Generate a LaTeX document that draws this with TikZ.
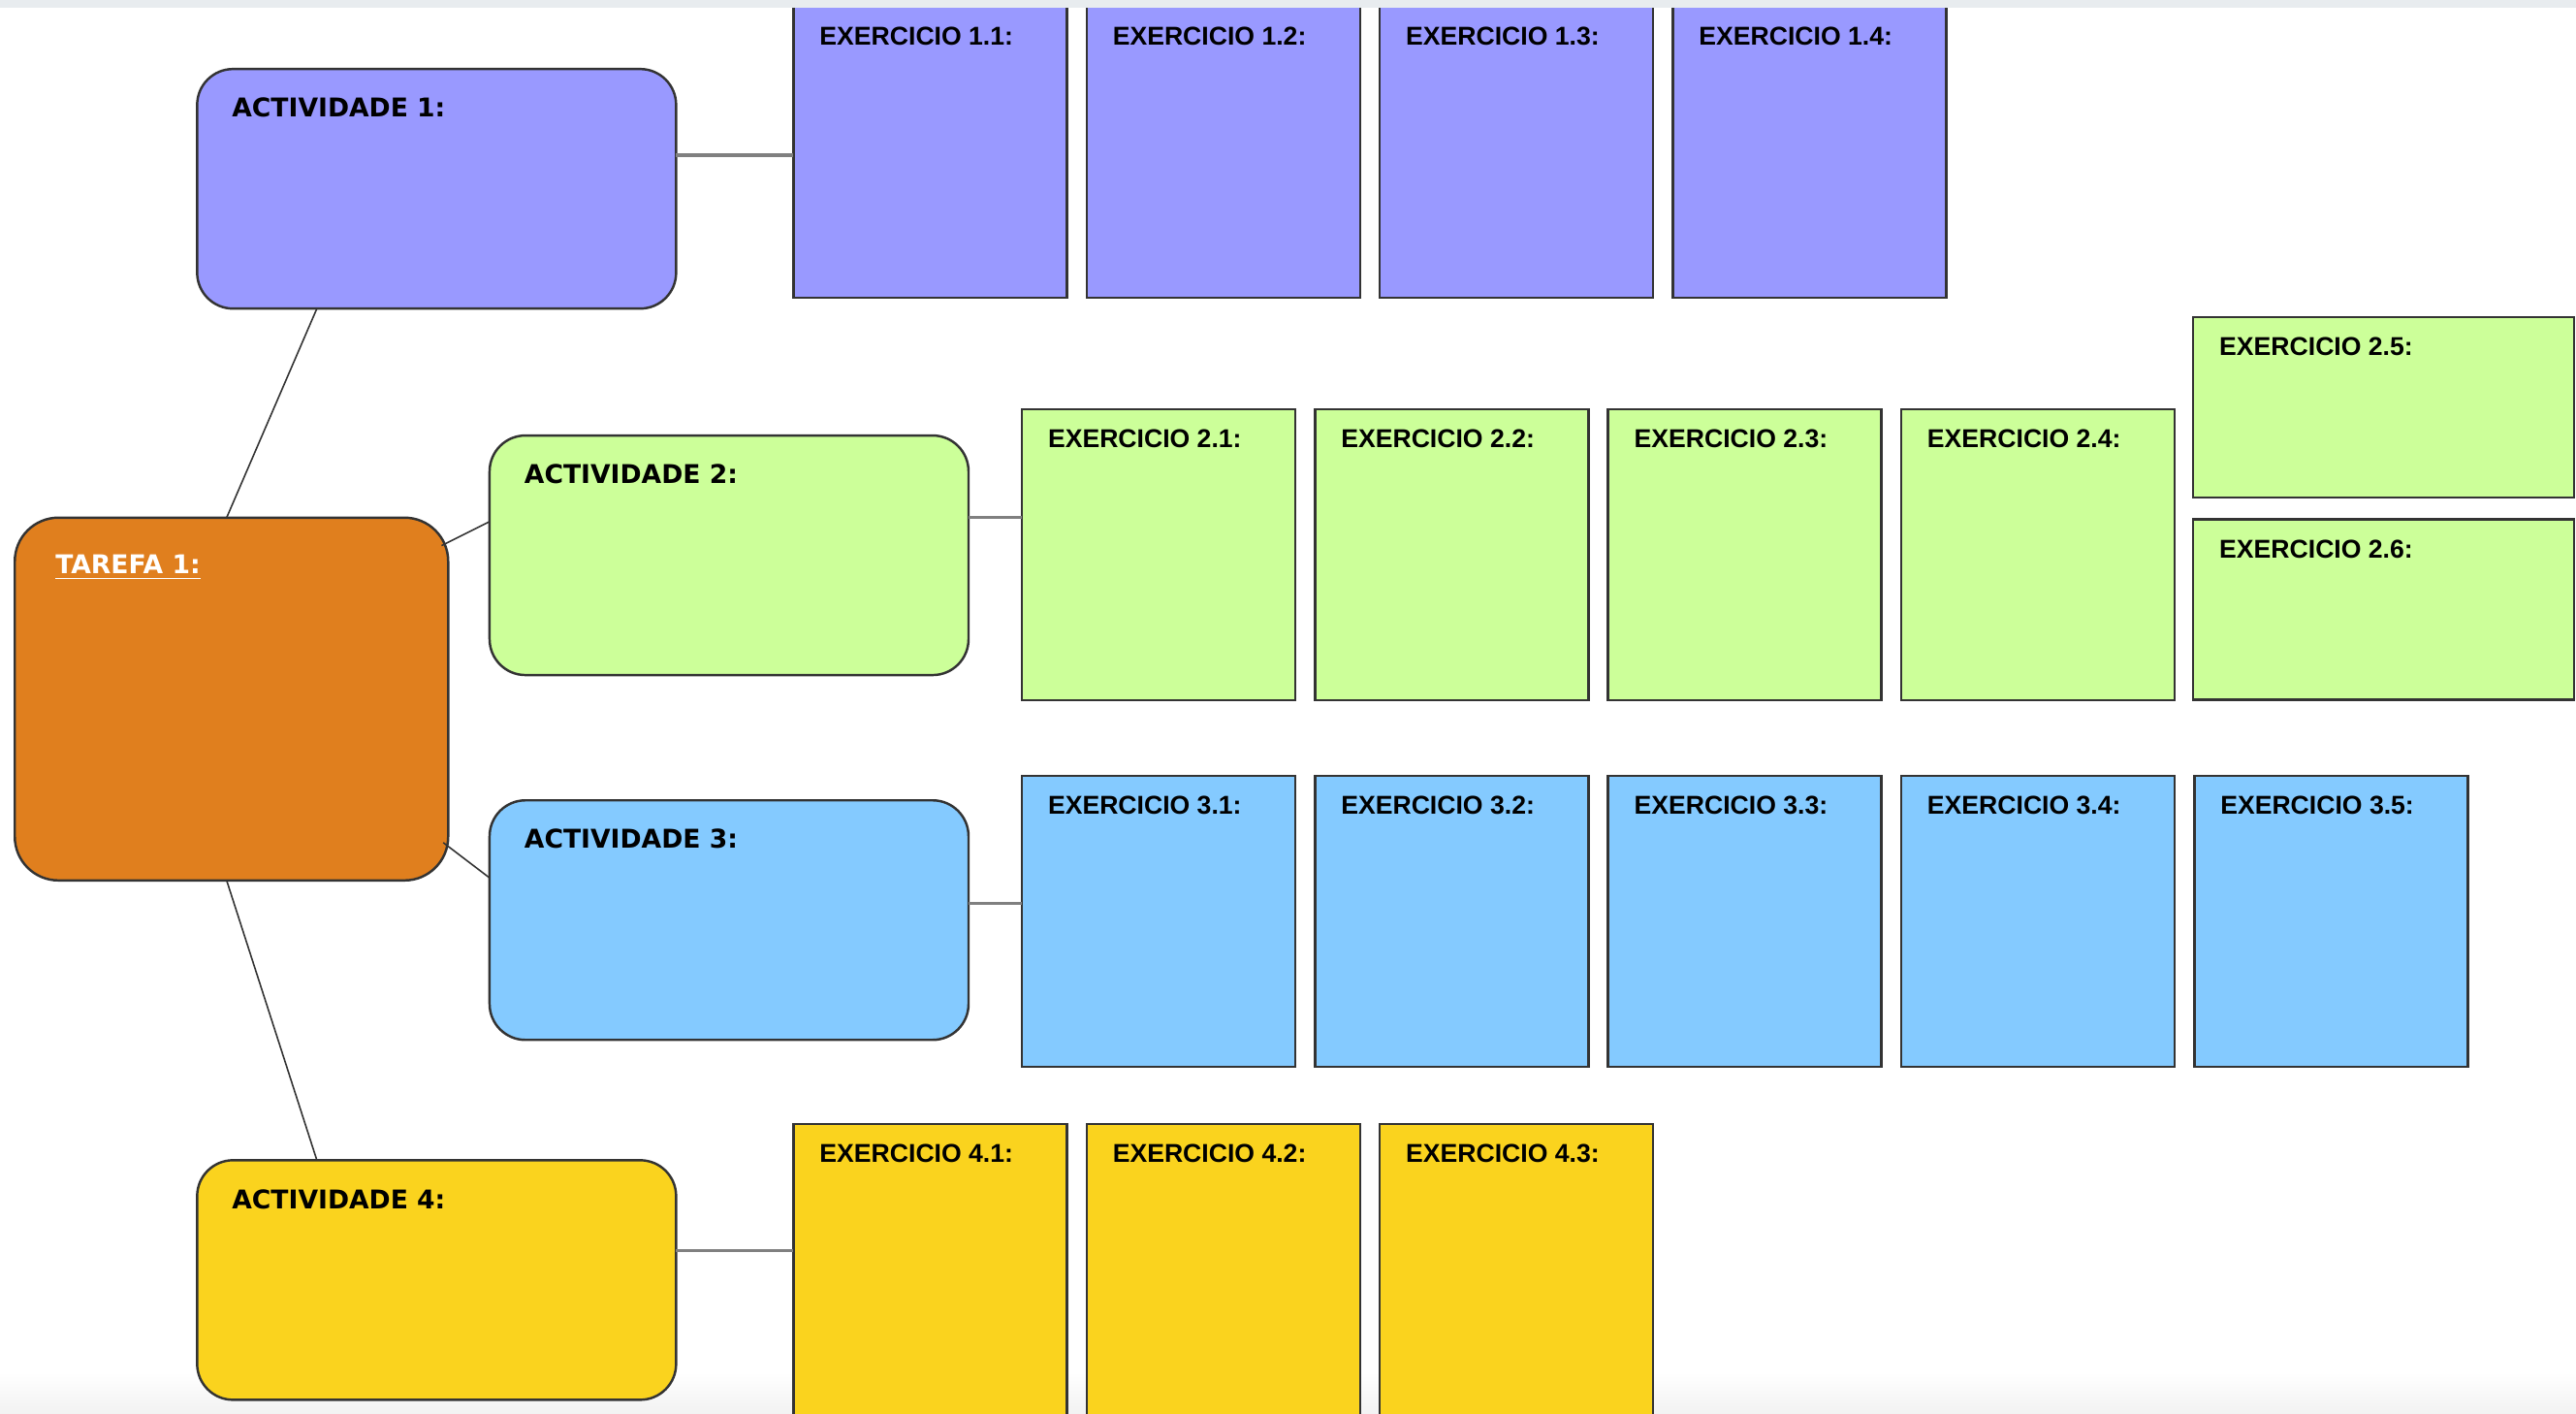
\documentclass[tikz,border=0pt]{standalone}
\usepackage{fontspec}
\setmainfont{Liberation Sans}
\newfontfamily\actfont{DejaVu Sans}
\usetikzlibrary{positioning, calc}

\definecolor{lilacA}{HTML}{9999FF}
\definecolor{limeA}{HTML}{CCFF99}
\definecolor{skyA}{HTML}{84CAFF}
\definecolor{sunA}{HTML}{FAD31E}
\definecolor{orangeT}{HTML}{E07F1E}
\definecolor{edgegray}{HTML}{333333}
\definecolor{chrome}{HTML}{E8ECEF}

\begin{document}
\begin{tikzpicture}[x=0.16945mm, y=-0.16945mm, outer sep=0pt]
  \tikzstyle{nodeT}=[draw=edgegray, line width=0.7pt, fill=orangeT, rounded corners=4.5mm, minimum width=44.7mm, minimum height=37.4mm, anchor=north west, inner sep=0pt]
  \tikzstyle{nodeA}=[draw=edgegray, line width=0.7pt, rounded corners=3.7mm, minimum width=49.4mm, minimum height=24.7mm, anchor=north west, inner sep=0pt]
  \tikzstyle{nodeE}=[draw=edgegray, line width=0.7pt, minimum width=28.2mm, minimum height=30mm, anchor=north west, inner sep=0pt]
  \tikzstyle{textT}=[anchor=north west, inner sep=0pt, xshift=4.2mm, yshift=-3.85mm, text=white, font=\actfont\bfseries\fontsize{7.57}{9}\selectfont]
  \tikzstyle{textA}=[anchor=north west, inner sep=0pt, xshift=3.6mm, yshift=-3.0mm, font=\actfont\bfseries\fontsize{7.57}{9}\selectfont]
  \tikzstyle{textE}=[anchor=north west, inner sep=0pt, xshift=2.7mm, yshift=-2.1mm, font=\bfseries\fontsize{7.57}{9}\selectfont]
  \tikzstyle{link}=[draw=edgegray, line width=0.45pt]
  \tikzstyle{linkH}=[draw=gray, line width=0.9pt]

  \useasboundingbox (0,0) rectangle (1568,860);
  \shade[top color=white, bottom color=black!5] (0,835) rectangle (1568,860);

  % Task and activities
  \node[nodeT, label={[textT]north west:{\underline{TAREFA 1:}}}] (tarefa) at (9,315) {};
  \node[nodeA, fill=lilacA, label={[textA]north west:{ACTIVIDADE 1:}}] (act1) at (120,42) {};
  \node[nodeA, fill=limeA, label={[textA]north west:{ACTIVIDADE 2:}}] (act2) at (298,265) {};
  \node[nodeA, fill=skyA, label={[textA]north west:{ACTIVIDADE 3:}}] (act3) at (298,487) {};
  \node[nodeA, fill=sunA, label={[textA]north west:{ACTIVIDADE 4:}}] (act4) at (120,706) {};

  % Exercises 1
  \node[nodeE, fill=lilacA, label={[textE]north west:{EXERCICIO 1.1:}}] (ex11) at (483,4) {};
  \node[nodeE, fill=lilacA, label={[textE]north west:{EXERCICIO 1.2:}}] (ex12) [right=2.03mm of ex11] {};
  \node[nodeE, fill=lilacA, label={[textE]north west:{EXERCICIO 1.3:}}] (ex13) [right=2.03mm of ex12] {};
  \node[nodeE, fill=lilacA, label={[textE]north west:{EXERCICIO 1.4:}}] (ex14) [right=2.03mm of ex13] {};

  % Exercises 2
  \node[nodeE, fill=limeA, label={[textE]north west:{EXERCICIO 2.1:}}] (ex21) at (622,249) {};
  \node[nodeE, fill=limeA, label={[textE]north west:{EXERCICIO 2.2:}}] (ex22) [right=2.03mm of ex21] {};
  \node[nodeE, fill=limeA, label={[textE]north west:{EXERCICIO 2.3:}}] (ex23) [right=2.03mm of ex22] {};
  \node[nodeE, fill=limeA, label={[textE]north west:{EXERCICIO 2.4:}}] (ex24) [right=2.03mm of ex23] {};
  \node[nodeE, fill=limeA, minimum width=39.3mm, minimum height=18.6mm, label={[textE]north west:{EXERCICIO 2.5:}}] (ex25) at (1335,193) {};
  \node[nodeE, fill=limeA, minimum width=39.3mm, minimum height=18.6mm, label={[textE]north west:{EXERCICIO 2.6:}}] (ex26) at (1335,316) {};

  % Exercises 3
  \node[nodeE, fill=skyA, label={[textE]north west:{EXERCICIO 3.1:}}] (ex31) at (622,472) {};
  \node[nodeE, fill=skyA, label={[textE]north west:{EXERCICIO 3.2:}}] (ex32) [right=2.03mm of ex31] {};
  \node[nodeE, fill=skyA, label={[textE]north west:{EXERCICIO 3.3:}}] (ex33) [right=2.03mm of ex32] {};
  \node[nodeE, fill=skyA, label={[textE]north west:{EXERCICIO 3.4:}}] (ex34) [right=2.03mm of ex33] {};
  \node[nodeE, fill=skyA, label={[textE]north west:{EXERCICIO 3.5:}}] (ex35) [right=2.03mm of ex34] {};

  % Exercises 4
  \node[nodeE, fill=sunA, minimum height=32mm, label={[textE]north west:{EXERCICIO 4.1:}}] (ex41) at (483,684) {};
  \node[nodeE, fill=sunA, minimum height=32mm, label={[textE]north west:{EXERCICIO 4.2:}}] (ex42) [right=2.03mm of ex41] {};
  \node[nodeE, fill=sunA, minimum height=32mm, label={[textE]north west:{EXERCICIO 4.3:}}] (ex43) [right=2.03mm of ex42] {};

  \fill[chrome] (0,0) rectangle (1568,5);

  \path[link] ([xshift=-0.5mm]tarefa.north) edge (act1.225);
  \path[link] ($(tarefa.north east)+(-4,17)$) edge (act2.172);
  \path[link] ($(tarefa.south east)+(-3,-23)$) edge (act3.170);
  \path[link] ([xshift=-0.5mm]tarefa.south) edge (act4.135);

  \path[linkH] (act1.8) edge (act1.8 -| ex11.west);
  \path[linkH] (act2.9) edge (act2.9 -| ex21.west);
  \path[linkH] (act3.4) edge (act3.4 -| ex31.west);
  \path[linkH] (act4.7) edge (act4.7 -| ex41.west);
\end{tikzpicture}
\end{document}
